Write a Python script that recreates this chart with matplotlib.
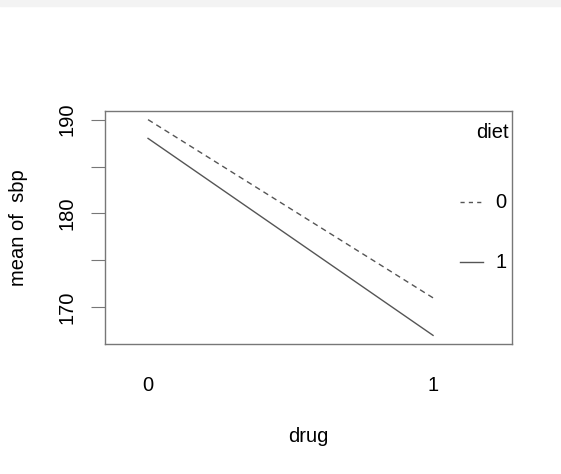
import matplotlib
matplotlib.use("Agg")
import matplotlib.pyplot as plt
from matplotlib.patches import Rectangle

plt.rcParams['font.family'] = ['Liberation Sans', 'DejaVu Sans']

drug = [0, 1]
drug_labels = ["0", "1"]
diet_levels = ["0", "1"]
sbp_diet0 = [190, 171]
sbp_diet1 = [188, 167]
yticks = [170, 175, 180, 185, 190]
ytick_labels = ["170", "", "180", "", "190"]

W, H = 561, 474
fs = 14.5
fig = plt.figure(figsize=(W / 100, H / 100), dpi=100)
fig.patches.append(Rectangle((0, 1 - 6 / H), 1, 6 / H, transform=fig.transFigure,
                             color='#f3f3f3', zorder=0))

ax = fig.add_axes([105 / W, 1 - 344 / H, (512 - 105) / W, (344 - 111) / H])
lc = '#555555'
ax.plot(drug, sbp_diet0, color=lc, lw=1, ls=(0, (4, 3)))
ax.plot(drug, sbp_diet1, color=lc, lw=1, ls='-')

lo, hi = min(sbp_diet1 + sbp_diet0), max(sbp_diet1 + sbp_diet0)
pad = (hi - lo) * 0.04
ax.set_ylim(lo - pad, hi + pad)
ax.set_xlim(-0.151, 1.277)

for s in ax.spines.values():
    s.set_color('#777777')
    s.set_linewidth(1)

ax.set_yticks(yticks)
ax.set_yticklabels(ytick_labels, rotation=90, va='center', fontsize=fs)
ax.tick_params(axis='y', length=10, color='#777777', pad=10.5)
ax.set_xticks(drug)
ax.set_xticklabels(drug_labels, fontsize=fs)
ax.tick_params(axis='x', length=0, pad=23)

ax.set_xlabel("drug", fontsize=fs, va='center')
ax.xaxis.set_label_coords(0.5, (344 - 437) / 233)
ax.set_ylabel("mean of  sbp", fontsize=fs, va='center')
ax.yaxis.set_label_coords((18 - 105) / 407, 0.5)

# legend drawn in data coordinates, like R's interaction.plot
ax.text(1.207, 188.6, "diet", fontsize=fs, ha='center', va='center')
ax.plot([1.095, 1.175], [181.17, 181.17], color=lc, lw=1, ls=(0, (3, 3)))
ax.text(1.218, 181.17, diet_levels[0], fontsize=fs, ha='left', va='center')
ax.plot([1.095, 1.175], [174.79, 174.79], color=lc, lw=1, ls='-')
ax.text(1.218, 174.79, diet_levels[1], fontsize=fs, ha='left', va='center')

fig.savefig("out.png", dpi=100)
